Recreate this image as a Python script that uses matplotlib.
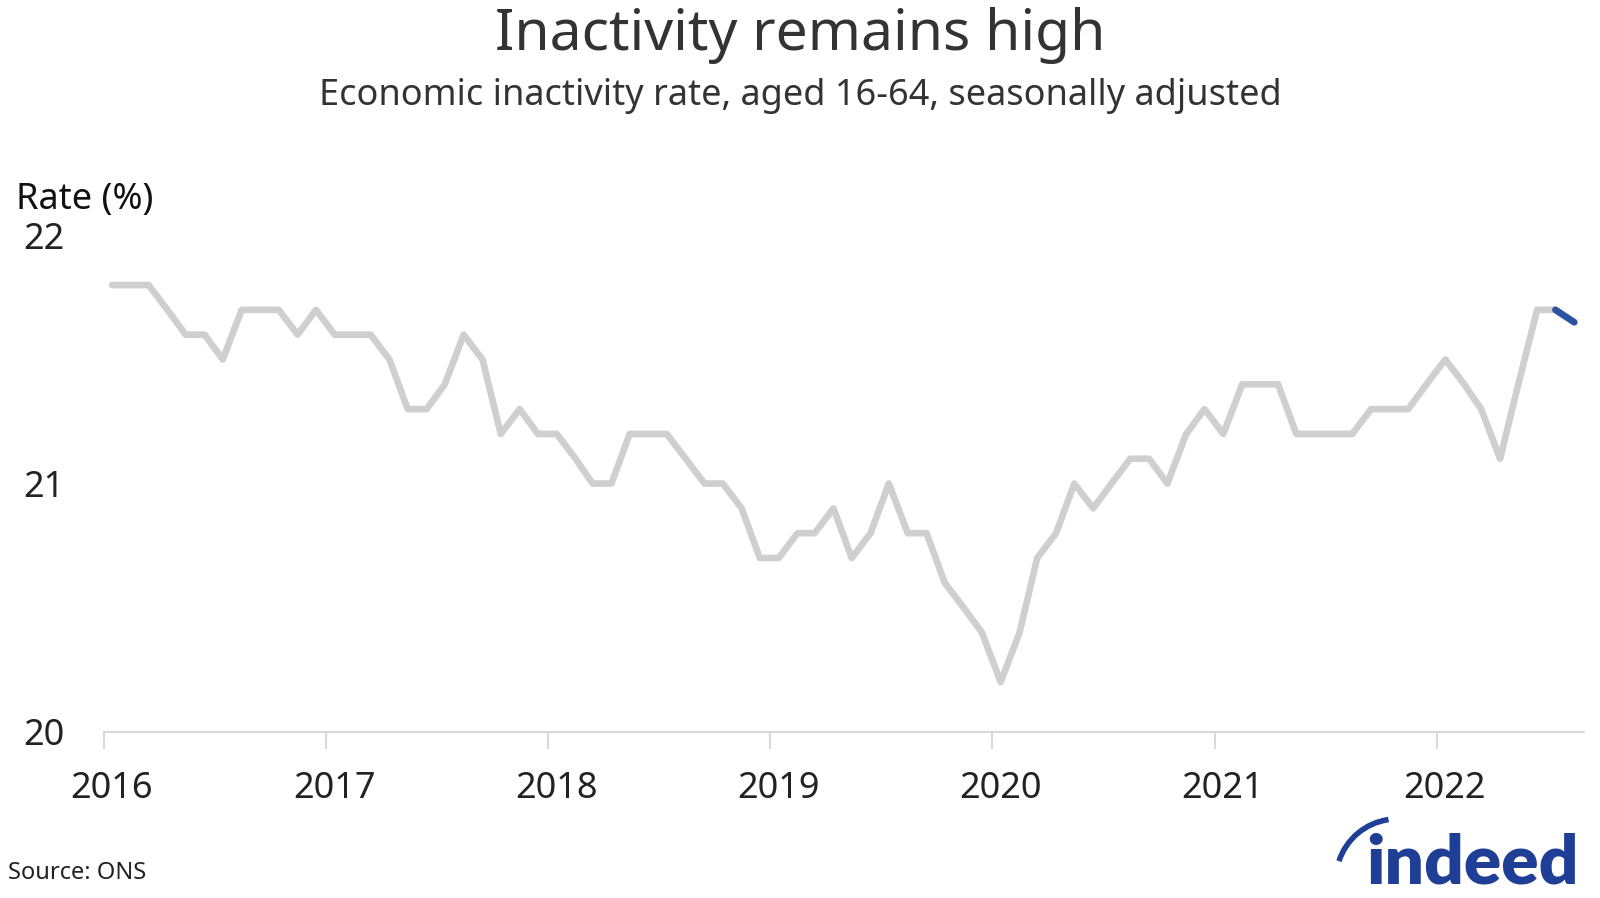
import matplotlib.pyplot as plt
import matplotlib.dates as mdates
import matplotlib.transforms as mtransforms
from matplotlib.patches import Arc
import pandas as pd

plt.rcParams['font.family'] = ['Noto Sans', 'DejaVu Sans']

# monthly inactivity rate, Jan 2016 .. Aug 2022
rate = [21.8, 21.8, 21.8, 21.7, 21.6, 21.6, 21.5, 21.7, 21.7, 21.7, 21.6, 21.7,
        21.6, 21.6, 21.6, 21.5, 21.3, 21.3, 21.4, 21.6, 21.5, 21.2, 21.3, 21.2,
        21.2, 21.1, 21.0, 21.0, 21.2, 21.2, 21.2, 21.1, 21.0, 21.0, 20.9, 20.7,
        20.7, 20.8, 20.8, 20.9, 20.7, 20.8, 21.0, 20.8, 20.8, 20.6, 20.5, 20.4,
        20.2, 20.4, 20.7, 20.8, 21.0, 20.9, 21.0, 21.1, 21.1, 21.0, 21.2, 21.3,
        21.2, 21.4, 21.4, 21.4, 21.2, 21.2, 21.2, 21.2, 21.3, 21.3, 21.3, 21.4,
        21.5, 21.4, 21.3, 21.1, 21.4, 21.7, 21.7, 21.65]
dates = pd.date_range('2016-01-01', periods=len(rate), freq='MS') + pd.Timedelta(days=14)
years = [2016, 2017, 2018, 2019, 2020, 2021, 2022]
yticks = [20, 21, 22]

W, H = 1600, 898
fig = plt.figure(figsize=(16, 8.98), dpi=100)
ax = fig.add_axes([103.6 / W, 1 - 731.7 / H, (1584 - 103.6) / W, (731.7 - 235.4) / H])

ax.plot(dates, rate, color='#d0cfcf', lw=4.8, solid_capstyle='round', solid_joinstyle='round')
ax.plot(dates[-2:], rate[-2:], color='#2a53a4', lw=4.8, solid_capstyle='round')

ax.set_xlim(pd.Timestamp('2016-01-01'), pd.Timestamp('2022-08-31'))
ax.set_ylim(20, 22)
ax.set_xticks([pd.Timestamp(f'{y}-01-01') for y in years])
ax.xaxis.set_major_formatter(mdates.DateFormatter('%Y'))
ax.set_yticks(yticks)

for s in ['top', 'right', 'left']:
    ax.spines[s].set_visible(False)
ax.spines['bottom'].set_color('#d9d9d9')
ax.spines['bottom'].set_linewidth(1.5)
ax.tick_params(axis='x', length=12, width=1.5, color='#d9d9d9', pad=16, labelsize=26, labelcolor='#222222')
ax.tick_params(axis='y', length=0, pad=28, labelsize=26, labelcolor='#222222')

# year labels sit a little right of their ticks in the original
shift = mtransforms.ScaledTranslation(8 / 100, 0, fig.dpi_scale_trans)
for lab in ax.get_xticklabels():
    lab.set_transform(lab.get_transform() + shift)

fig.text(0.5, 1 - 36 / H, 'Inactivity remains high', ha='center', va='center', fontsize=41, color='#333333')
fig.text(0.5, 1 - 96 / H, 'Economic inactivity rate, aged 16-64, seasonally adjusted',
         ha='center', va='center', fontsize=26, color='#333333')
fig.text(16 / W, 1 - 200 / H, 'Rate (%)', ha='left', va='center', fontsize=26, color='#111111')
fig.text(8 / W, 1 - 873 / H, 'Source: ONS', ha='left', va='center', fontsize=17, color='#222222')

# indeed logo
blue = '#1f3f97'
fig.text(1579 / W, 1 - 884 / H, 'indeed', ha='right', va='baseline', fontsize=50,
         family=['Lato', 'DejaVu Sans'], fontweight='heavy', color=blue)
over = fig.add_axes([0, 0, 1, 1])
over.set_xlim(0, W)
over.set_ylim(H, 0)
over.axis('off')
over.add_patch(Arc((1397, 880), 122, 122, angle=0, theta1=-162, theta2=-98, color=blue, lw=4))

fig.savefig('out.png', dpi=100)
